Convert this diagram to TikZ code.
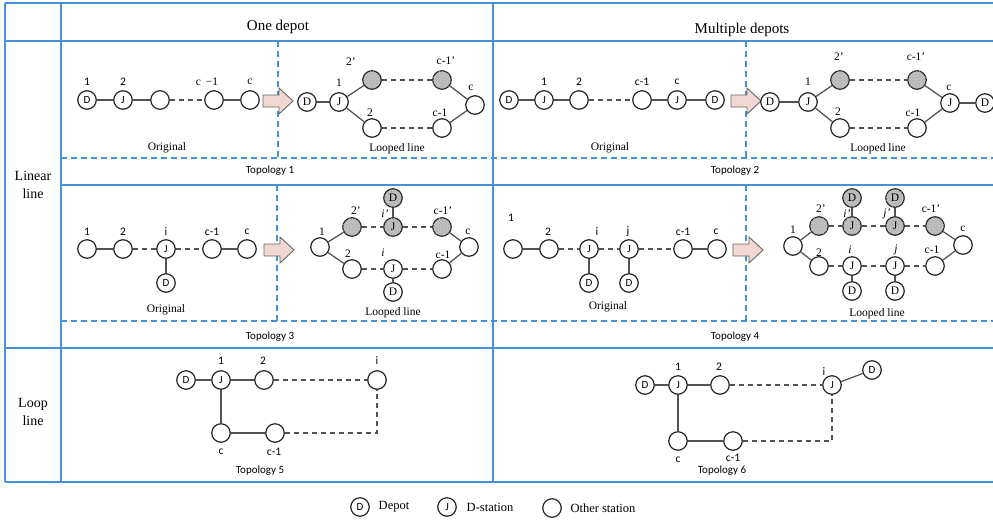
\documentclass[tikz,border=0pt]{standalone}
\usepackage{fontspec}
\usetikzlibrary{patterns}
\setmainfont{Liberation Serif}
\newfontfamily\sansc{Carlito}
\definecolor{tblue}{RGB}{70,145,215}
\definecolor{shadegray}{RGB}{192,192,192}
\definecolor{pinkf}{RGB}{242,214,210}
\tikzset{
  gridline/.style={draw=tblue, line width=1.6pt},
  griddash/.style={draw=tblue, line width=1.3pt, dash pattern=on 6pt off 4pt},
  stn/.style={circle, draw=black!85, line width=1.2pt, minimum size=18.5pt, inner sep=0pt, fill=white,
    font=\sansc\fontsize{11}{11}\selectfont},
  stnr/.style={stn, font=\fontsize{11.5}{11.5}\selectfont},
  shd/.style={stnr, fill=shadegray, postaction={pattern=crosshatch dots, pattern color=black!35}},
  ln/.style={draw=black!68, line width=1.25pt},
  dl/.style={ln, dash pattern=on 5pt off 4pt},
  lbs/.style={font=\sansc\fontsize{11.5}{11.5}\selectfont, inner sep=0pt},
  lbr/.style={font=\fontsize{11.5}{11.5}\selectfont, inner sep=0pt},
  lbi/.style={font=\itshape\fontsize{11.5}{11.5}\selectfont, inner sep=0pt},
  subcap/.style={font=\fontsize{11.5}{11.5}\selectfont, inner sep=0pt},
  topocap/.style={font=\sansc\fontsize{11}{11}\selectfont, inner sep=0pt},
  head/.style={font=\fontsize{15}{15}\selectfont, inner sep=0pt},
  rowhead/.style={font=\fontsize{14}{18}\selectfont, align=center, inner sep=0pt},
  legtxt/.style={font=\fontsize{12.5}{12.5}\selectfont, inner sep=0pt},
  blockarr/.pic={\draw[fill=pinkf, draw=black!60, line width=0.9pt]
    (-15,-6) -- (1,-6) -- (1,-13) -- (15,0) -- (1,13) -- (1,6) -- (-15,6) -- cycle;}
}
\begin{document}
\begin{tikzpicture}[x=1pt,y=-1pt]
\useasboundingbox (0,0) rectangle (993,523);

% ---------- table grid ----------
\draw[gridline] (5,3) -- (993,3);
\draw[gridline] (5,41) -- (993,41);
\draw[gridline] (61,185) -- (993,185);
\draw[gridline] (5,348) -- (993,348);
\draw[gridline] (5,482) -- (993,482);
\draw[gridline] (5,3) -- (5,482);
\draw[gridline] (61,3) -- (61,482);
\draw[gridline] (493,3) -- (493,482);
\draw[griddash] (61,158) -- (993,158);
\draw[griddash] (61,321) -- (993,321);
\draw[griddash] (278,41) -- (278,158);
\draw[griddash] (746,41) -- (746,158);
\draw[griddash] (277,185) -- (277,321);
\draw[griddash] (746,185) -- (746,321);

% ---------- headers ----------
\node[head] (h1) at (278,27) {One depot};
\node[head] (h2) at (742,30) {Multiple depots};
\node[rowhead] (r1) at (33,185) {Linear\\line};
\node[rowhead] (r2) at (33,412) {Loop\\line};

% ---------- Topology 1: original ----------
\node[stn] (a1) at (87,100) {D};
\node[stn] (a2) at (123,100) {J};
\node[stn] (a3) at (160,100) {};
\node[stn] (a4) at (214,100) {};
\node[stn] (a5) at (250,100) {};
\node[lbs] (la1) at (87,82) {1};
\node[lbs] (la2) at (123,82) {2};
\node[lbr] (la4) at (207,82) {c \,−1};
\node[lbr] (la5) at (250,82) {c};
\draw[ln] (a1) -- (a2);
\draw[ln] (a2) -- (a3);
\draw[dl] (a3) -- (a4);
\draw[ln] (a4) -- (a5);
\node[subcap] (ca1) at (167,148) {Original};
\pic at (278,101) {blockarr};

% ---------- Topology 1: looped ----------
\node[stnr] (bD) at (307,102) {D};
\node[stnr] (bJ) at (339,102) {J};
\node[shd] (b2p) at (372,80) {};
\node[shd] (bc1p) at (442,80) {};
\node[stnr] (bc) at (475,105) {};
\node[stnr] (b2) at (372,128) {};
\node[stnr] (bc1) at (442,128) {};
\node[lbr] (lb2p) at (351,62) {2'};
\node[lbr] (lbc1p) at (446,61) {c-1'};
\node[lbr] (lbJ) at (339,83) {1};
\node[lbr] (lb2) at (370,113) {2};
\node[lbr] (lbc1) at (440,113) {c-1};
\node[lbr] (lbc) at (471,88) {c};
\draw[ln] (bD) -- (bJ);
\draw[ln] (bJ) -- (b2p);
\draw[ln] (bJ) -- (b2);
\draw[dl] (b2p) -- (bc1p);
\draw[dl] (b2) -- (bc1);
\draw[ln] (bc1p) -- (bc);
\draw[ln] (bc1) -- (bc);
\node[subcap] (cb1) at (397,149) {Looped line};
\node[topocap] (t1) at (270,171) {Topology 1};

% ---------- Topology 2: original ----------
\node[stn] (c1) at (509,100) {D};
\node[stn] (c2) at (544,100) {J};
\node[stn] (c3) at (579,100) {};
\node[stn] (c4) at (642,100) {};
\node[stn] (c5) at (677,100) {J};
\node[stn] (c6) at (715,100) {D};
\node[lbs] (lc2) at (544,82) {1};
\node[lbs] (lc3) at (579,82) {2};
\node[lbs] (lc4) at (642,82) {c-1};
\node[lbs] (lc5) at (677,82) {c};
\draw[ln] (c1) -- (c2);
\draw[ln] (c2) -- (c3);
\draw[dl] (c3) -- (c4);
\draw[ln] (c4) -- (c5);
\draw[ln] (c5) -- (c6);
\node[subcap] (cc1) at (610,148) {Original};
\pic at (746,101) {blockarr};

% ---------- Topology 2: looped ----------
\node[stnr] (dD) at (770,102) {D};
\node[stnr] (dJ) at (808,102) {J};
\node[shd] (d2p) at (840,80) {};
\node[shd] (dc1p) at (917,80) {};
\node[stnr] (dJc) at (950,103) {J};
\node[stnr] (dDc) at (985,103) {D};
\node[stnr] (d2) at (840,128) {};
\node[stnr] (dc1) at (917,128) {};
\node[lbr] (ld2p) at (839,57) {2'};
\node[lbr] (ldc1p) at (916,57) {c-1'};
\node[lbr] (ldJ) at (808,82) {1};
\node[lbr] (ld2) at (838,112) {2};
\node[lbr] (ldc1) at (913,113) {c-1};
\node[lbr] (ldc) at (949,88) {c};
\draw[ln] (dD) -- (dJ);
\draw[ln] (dJ) -- (d2p);
\draw[ln] (dJ) -- (d2);
\draw[dl] (d2p) -- (dc1p);
\draw[dl] (d2) -- (dc1);
\draw[ln] (dc1p) -- (dJc);
\draw[ln] (dc1) -- (dJc);
\draw[ln] (dJc) -- (dDc);
\node[subcap] (cd1) at (878,149) {Looped line};
\node[topocap] (t2) at (735,171) {Topology 2};

% ---------- Topology 3: original ----------
\node[stn] (e1) at (87,249) {};
\node[stn] (e2) at (123,249) {};
\node[stn] (eJ) at (166,249) {J};
\node[stn] (e4) at (212,249) {};
\node[stn] (e5) at (247,249) {};
\node[stn] (eD) at (166,283) {D};
\node[lbs] (le1) at (87,232) {1};
\node[lbs] (le2) at (123,232) {2};
\node[lbs] (leJ) at (166,232) {i};
\node[lbs] (le4) at (212,232) {c-1};
\node[lbs] (le5) at (247,232) {c};
\draw[ln] (e1) -- (e2);
\draw[dl] (e2) -- (eJ);
\draw[dl] (eJ) -- (e4);
\draw[ln] (e4) -- (e5);
\draw[ln] (eJ) -- (eD);
\node[subcap] (ce1) at (166,310) {Original};
\pic at (279,250) {blockarr};

% ---------- Topology 3: looped ----------
\node[stnr] (f1) at (320,247) {};
\node[shd] (f2p) at (352,227) {};
\node[shd] (fJp) at (393,227) {J};
\node[shd] (fDp) at (393,198) {D};
\node[shd] (fc1p) at (442,227) {};
\node[stnr] (fc) at (469,247) {};
\node[stnr] (f2) at (352,269) {};
\node[stnr] (fJ) at (393,269) {J};
\node[stnr] (fc1) at (442,269) {};
\node[stnr] (fD) at (393,292) {D};
\node[lbr] (lf1) at (322,232) {1};
\node[lbr] (lf2p) at (356,211) {2'};
\node[lbi] (lfJp) at (385,214) {i'};
\node[lbr] (lfc1p) at (443,211) {c-1'};
\node[lbr] (lfc) at (468,232) {c};
\node[lbr] (lf2) at (348,254) {2};
\node[lbi] (lfJ) at (383,253) {i};
\node[lbr] (lfc1) at (443,255) {c-1};
\draw[ln] (f1) -- (f2p);
\draw[ln] (f1) -- (f2);
\draw[dl] (f2p) -- (fJp);
\draw[dl] (fJp) -- (fc1p);
\draw[ln] (fc1p) -- (fc);
\draw[ln] (fDp) -- (fJp);
\draw[dl] (f2) -- (fJ);
\draw[dl] (fJ) -- (fc1);
\draw[ln] (fc1) -- (fc);
\draw[ln] (fJ) -- (fD);
\node[subcap] (cf1) at (393,313) {Looped line};
\node[topocap] (t3) at (270,337) {Topology 3};

% ---------- Topology 4: original ----------
\node[stn] (g1) at (513,249) {};
\node[stn] (g2) at (549,249) {};
\node[stn] (gJi) at (589,249) {J};
\node[stn] (gJj) at (629,249) {J};
\node[stn] (g5) at (683,249) {};
\node[stn] (g6) at (717,249) {};
\node[stn] (gDi) at (589,283) {D};
\node[stn] (gDj) at (629,283) {D};
\node[lbs] (lg1) at (511,218) {1};
\node[lbs] (lg2) at (548,232) {2};
\node[lbs] (lgJi) at (597,232) {i};
\node[lbs] (lgJj) at (628,232) {j};
\node[lbs] (lg5) at (683,232) {c-1};
\node[lbs] (lg6) at (716,232) {c};
\draw[ln] (g1) -- (g2);
\draw[dl] (g2) -- (gJi);
\draw[dl] (gJi) -- (gJj);
\draw[dl] (gJj) -- (g5);
\draw[ln] (g5) -- (g6);
\draw[ln] (gJi) -- (gDi);
\draw[ln] (gJj) -- (gDj);
\node[subcap] (cg1) at (608,307) {Original};
\pic at (748,250) {blockarr};

% ---------- Topology 4: looped ----------
\node[stnr] (k1) at (793,246) {};
\node[shd] (k2p) at (819,226) {};
\node[shd] (kJip) at (852,226) {J};
\node[shd] (kDip) at (852,198) {D};
\node[shd] (kJjp) at (895,226) {J};
\node[shd] (kDjp) at (895,198) {D};
\node[shd] (kc1p) at (935,226) {};
\node[stnr] (kc) at (963,245) {};
\node[stnr] (k2) at (819,266) {};
\node[stnr] (kJi) at (852,266) {J};
\node[stnr] (kJj) at (895,266) {J};
\node[stnr] (kc1) at (935,266) {};
\node[stnr] (kDi) at (852,291) {D};
\node[stnr] (kDj) at (895,291) {D};
\node[lbr] (lk1) at (793,230) {1};
\node[lbr] (lk2p) at (821,209) {2'};
\node[lbi] (lkJip) at (847,214) {i'};
\node[lbi] (lkJjp) at (887,214) {j'};
\node[lbr] (lkc1p) at (931,209) {c-1'};
\node[lbr] (lkc) at (963,229) {c};
\node[lbr] (lk2) at (819,253) {2};
\node[lbi] (lkJi) at (850,250) {i};
\node[lbi] (lkJj) at (896,250) {j};
\node[lbr] (lkc1) at (932,250) {c-1};
\draw[ln] (k1) -- (k2p);
\draw[ln] (k1) -- (k2);
\draw[dl] (k2p) -- (kJip);
\draw[dl] (kJip) -- (kJjp);
\draw[dl] (kJjp) -- (kc1p);
\draw[ln] (kc1p) -- (kc);
\draw[ln] (kDip) -- (kJip);
\draw[ln] (kDjp) -- (kJjp);
\draw[dl] (k2) -- (kJi);
\draw[dl] (kJi) -- (kJj);
\draw[dl] (kJj) -- (kc1);
\draw[ln] (kc1) -- (kc);
\draw[ln] (kJi) -- (kDi);
\draw[ln] (kJj) -- (kDj);
\node[subcap] (ck1) at (877,314) {Looped line};
\node[topocap] (t4) at (735,337) {Topology 4};

% ---------- Topology 5: loop line, one depot ----------
\node[stn] (mD) at (186,380) {D};
\node[stn] (mJ) at (221,380) {J};
\node[stn] (m2) at (264,380) {};
\node[stn] (mi) at (377,380) {};
\node[stn] (mc) at (221,433) {};
\node[stn] (mc1) at (275,433) {};
\coordinate (mk) at (377,433);
\node[lbs] (lmJ) at (221,361) {1};
\node[lbs] (lm2) at (263,361) {2};
\node[lbs] (lmi) at (377,361) {i};
\node[lbs] (lmc) at (221,452) {c};
\node[lbs] (lmc1) at (274,452) {c-1};
\draw[ln] (mD) -- (mJ);
\draw[ln] (mJ) -- (m2);
\draw[dl] (m2) -- (mi);
\draw[ln] (mJ) -- (mc);
\draw[ln] (mc) -- (mc1);
\draw[dl] (mc1) -- (mk) -- (mi);
\node[topocap] (t5) at (260,471) {Topology 5};

% ---------- Topology 6: loop line, multiple depots ----------
\node[stn] (nD) at (645,385) {D};
\node[stn] (nJ) at (678,385) {J};
\node[stn] (n2) at (720,385) {};
\node[stn] (nJi) at (832,385) {J};
\node[stn] (nDi) at (872,370) {D};
\node[stn] (nc) at (678,441) {};
\node[stn] (nc1) at (733,441) {};
\coordinate (nk) at (832,441);
\node[lbs] (lnJ) at (678,367) {1};
\node[lbs] (ln2) at (719,367) {2};
\node[lbs] (lnJi) at (824,372) {i};
\node[lbs] (lnc) at (678,460) {c};
\node[lbs] (lnc1) at (733,458) {c-1};
\draw[ln] (nD) -- (nJ);
\draw[ln] (nJ) -- (n2);
\draw[dl] (n2) -- (nJi);
\draw[ln] (nJi) -- (nDi);
\draw[ln] (nJ) -- (nc);
\draw[ln] (nc) -- (nc1);
\draw[dl] (nc1) -- (nk) -- (nJi);
\node[topocap] (t6) at (722,471) {Topology 6};

% ---------- legend ----------
\node[stn] (qD) at (360,507) {D};
\node[legtxt] (qDt) at (394,507) {Depot};
\node[stn] (qJ) at (447,507) {J};
\node[legtxt] (qJt) at (490,507) {D-station};
\node[stn] (qO) at (552,508) {};
\node[legtxt] (qOt) at (603,508) {Other station};
\end{tikzpicture}
\end{document}
